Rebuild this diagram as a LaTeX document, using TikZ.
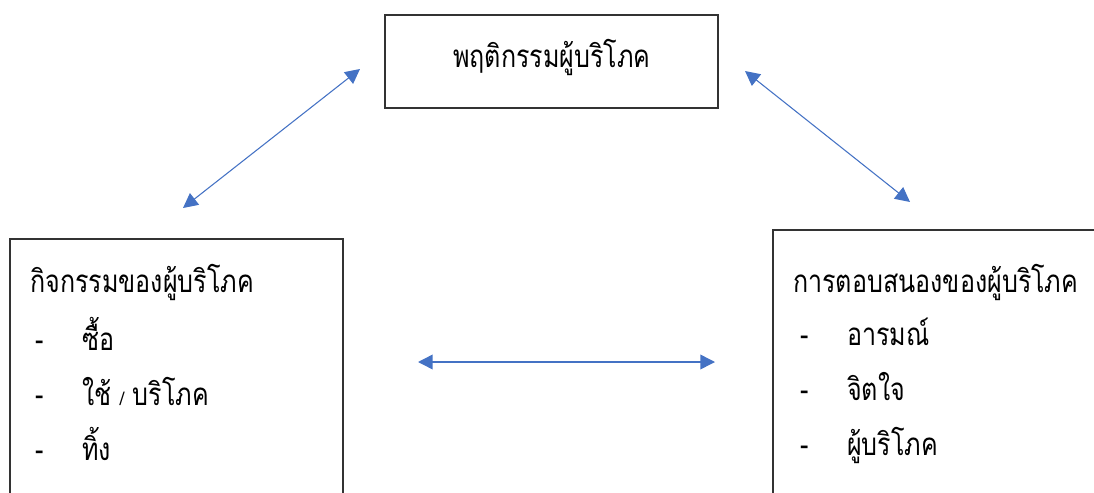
\documentclass[tikz,border=0pt]{standalone}
\usepackage{fontspec}
\newfontfamily\thaifont[Script=Thai,FakeStretch=0.8]{Loma}
\usetikzlibrary{arrows.meta}
\definecolor{arrowblue}{HTML}{4472C4}
\tikzset{
  px/.style={x=0.75pt,y=-0.75pt},
  box/.style={draw=black!80,line width=0.8pt},
  txt/.style={anchor=base west,inner sep=0pt,font=\thaifont\fontsize{23.5}{26}\selectfont},
  ctxt/.style={anchor=base,inner sep=0pt,font=\thaifont\fontsize{23.5}{26}\selectfont},
  link/.style={draw=arrowblue,line width=0.8pt,{Triangle[length=11pt,width=11pt]}-{Triangle[length=11pt,width=11pt]}}
}
\begin{document}
\begin{tikzpicture}[px]
\useasboundingbox (0,0) rectangle (1094,492);
\clip (0,0) rectangle (1094,492);
% boxes
\draw[box] (385,15) rectangle (718,108);
\draw[box] (10,239) rectangle (343,520);
\draw[box] (773,230) rectangle (1120,520);
% texts
\node[ctxt] (top) at (552,68) {พฤติกรรมผู้บริโภค};
\node[txt] (lt) at (30,292) {กิจกรรมของผู้บริโภค};
\node[txt] (l1d) at (35,350) {-};
\node[txt] (l1) at (82,350) {ซื้อ};
\node[txt] (l2d) at (35,405) {-};
\node[txt] (l2) at (82,405) {ใช้ {\fontsize{14}{16}\selectfont/} บริโภค};
\node[txt] (l3d) at (35,460) {-};
\node[txt] (l3) at (82,460) {ทิ้ง};
\node[txt] (rt) at (793,292) {การตอบสนองของผู้บริโภค};
\node[txt] (r1d) at (800,345) {-};
\node[txt] (r1) at (847,345) {อารมณ์};
\node[txt] (r2d) at (800,400) {-};
\node[txt] (r2) at (847,400) {จิตใจ};
\node[txt] (r3d) at (800,455) {-};
\node[txt] (r3) at (847,455) {ผู้บริโภค};
% arrow ends
\coordinate (a1) at (183,208);
\coordinate (a2) at (360,69);
\coordinate (b1) at (745,71);
\coordinate (b2) at (910,202);
\coordinate (c1) at (418,362);
\coordinate (c2) at (715,362);
\draw[link] (a1) -- (a2);
\draw[link] (b1) -- (b2);
\draw[link,line width=1.1pt] (c1) -- (c2);
\end{tikzpicture}
\end{document}
